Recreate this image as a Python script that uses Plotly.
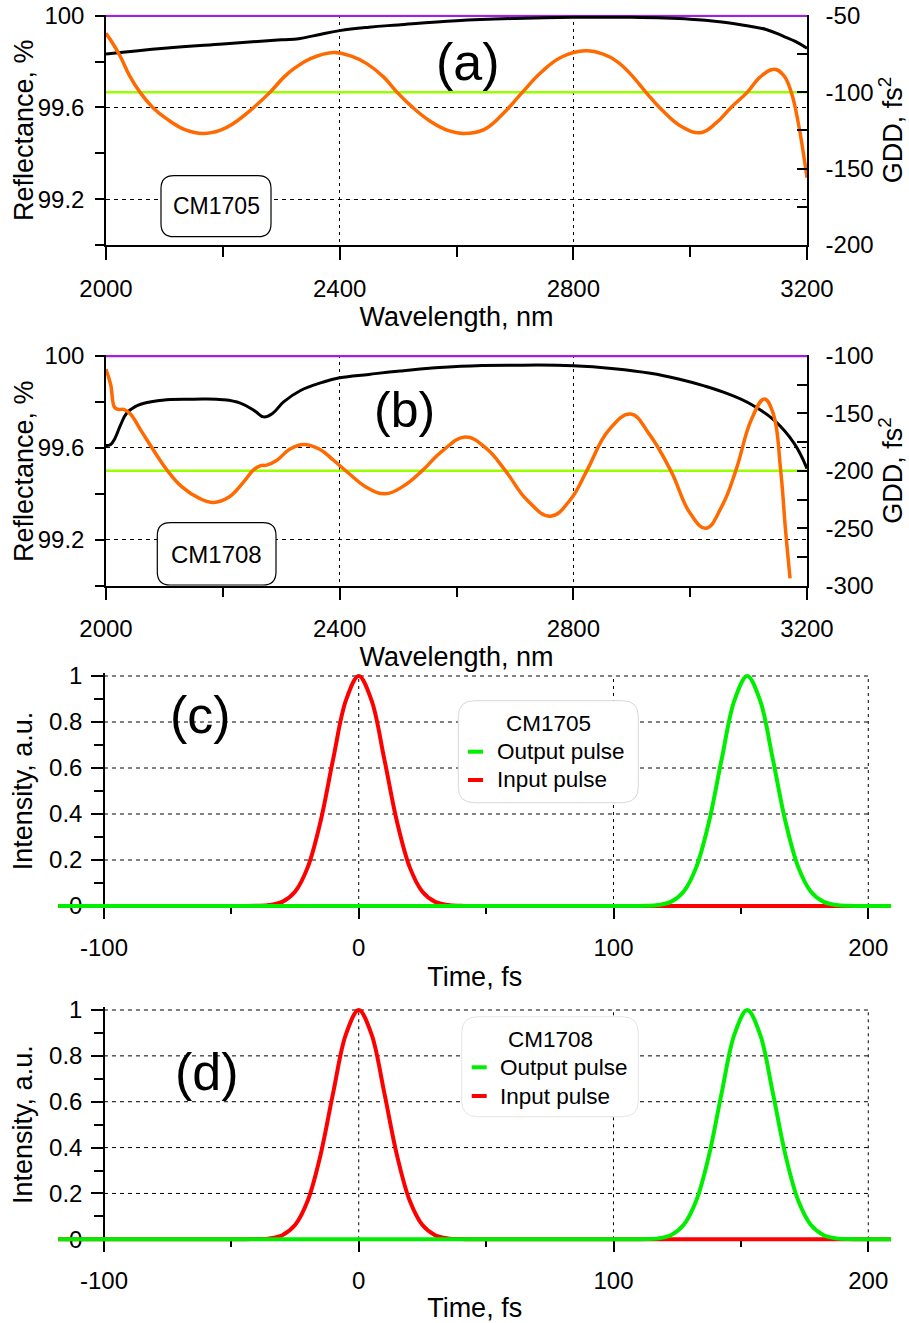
import plotly.graph_objects as go

# ---------------- DATA ----------------
# Panel (a) CM1705
wl_a_R = [2000, 2100, 2200, 2300, 2330, 2360, 2400, 2450, 2500, 2600, 2700, 2800, 2900, 3000,
          3050, 3100, 3130, 3160, 3180, 3200]
R_a = [99.833, 99.858, 99.877, 99.895, 99.9, 99.915, 99.935, 99.95, 99.96, 99.978, 99.988, 99.993,
       99.993, 99.985, 99.974, 99.955, 99.94, 99.91, 99.888, 99.858]
wl_a_gdd = [2000, 2013, 2025, 2040, 2058, 2080, 2104, 2135, 2167, 2195, 2218, 2250, 2281, 2305, 2324,
            2350, 2390, 2420, 2447, 2475, 2498, 2525, 2555, 2585, 2612, 2647, 2680, 2713, 2745, 2780,
            2821, 2850, 2875, 2900, 2924, 2950, 2985, 3018, 3045, 3070, 3098, 3120, 3144, 3160, 3173,
            3185, 3193, 3200]
gdd_a = [-61.5, -69, -77, -89, -100, -110, -117.5, -124.5, -127, -125, -120.5, -111, -100, -90, -84,
         -78, -74, -76.5, -81.5, -90, -100, -110, -119, -125, -127, -124.5, -114, -100, -87, -77,
         -73, -75, -80, -89, -100, -111, -122.5, -126.5, -120, -110, -100, -90, -85, -89, -100,
         -120, -138, -156]

# Panel (b) CM1708
wl_b_R = [2000, 2008, 2015, 2025, 2035, 2050, 2075, 2104, 2150, 2200, 2230, 2255, 2270, 2285, 2304,
          2333, 2370, 2400, 2450, 2504, 2607, 2700, 2800, 2870, 2932, 2980, 3024, 3065, 3104, 3144,
          3178, 3200]
R_b = [99.61, 99.615, 99.64, 99.70, 99.75, 99.78, 99.80, 99.81, 99.812, 99.81, 99.795, 99.76, 99.735,
       99.75, 99.80, 99.85, 99.885, 99.905, 99.92, 99.935, 99.955, 99.96, 99.958, 99.945, 99.925,
       99.90, 99.87, 99.835, 99.79, 99.72, 99.62, 99.51]
wl_b_gdd = [2000, 2008, 2015, 2022, 2030, 2041, 2060, 2080, 2104, 2130, 2160, 2184, 2210, 2235, 2253,
            2265, 2275, 2292, 2315, 2338, 2365, 2390, 2413, 2445, 2478, 2510, 2541, 2575, 2615, 2650,
            2684, 2720, 2761, 2795, 2823, 2860, 2898, 2930, 2967, 3000, 3027, 3055, 3078, 3105, 3127,
            3142, 3155, 3163, 3171]
gdd_b = [-111.6, -125, -145, -146.5, -146.5, -150, -165, -181, -199, -214, -224, -227.5, -223, -210,
         -199, -195.5, -195, -191, -181, -177, -181, -191, -201, -214, -220, -213, -200, -183, -170.5,
         -180, -200, -225, -239.5, -225, -200, -165, -150.5, -168, -200, -237, -250, -230, -200, -155,
         -137.5, -150, -200, -250, -293.6]

wl_target = [2000, 3200]
R_target = [100, 100]
gdd_target_a = [-100, -100]
gdd_target_b = [-200, -200]

# Panels (c), (d): pulses (intensity, a.u.)
t_in = [-118, -45, -40, -35, -30, -25, -20, -15, -10, -5, 0, 5, 10, 15, 20, 25, 30, 35, 40, 45, 209]
I_in = [0, 0, 0.001, 0.004, 0.018, 0.062, 0.169, 0.367, 0.641, 0.895, 1.0, 0.895, 0.641, 0.367,
        0.169, 0.062, 0.018, 0.004, 0.001, 0, 0]
t_out_c = [-118, 107.5, 112.5, 117.5, 122.5, 127.5, 132.5, 137.5, 142.5, 147.5, 152.5, 157.5, 162.5,
           167.5, 172.5, 177.5, 182.5, 187.5, 192.5, 197.5, 209]
I_out_c = [0, 0, 0.001, 0.004, 0.018, 0.062, 0.169, 0.367, 0.641, 0.895, 1.0, 0.895, 0.641, 0.367,
           0.169, 0.062, 0.018, 0.004, 0.001, 0, 0]
t_out_d = [-118, 107.5, 112.5, 117.5, 122.5, 127.5, 132.5, 137.5, 142.5, 147.5, 152.5, 157.5, 162.5,
           167.5, 172.5, 177.5, 182.5, 187.5, 192.5, 197.5, 209]
I_out_d = [0, 0, 0.001, 0.004, 0.018, 0.062, 0.169, 0.367, 0.641, 0.895, 1.0, 0.895, 0.641, 0.367,
           0.169, 0.062, 0.018, 0.004, 0.001, 0, 0]

# Ticks
wl_ticks = [2000, 2400, 2800, 3200]
wl_minor = [2200, 2600, 3000]
R_ticks = [99.2, 99.6, 100]
R_ticktext = ["99.2", "99.6", "100"]
R_minor = [99.0, 99.4, 99.8]
gdd_a_ticks = [-200, -150, -100, -50]
gdd_a_ticktext = ["-200", "-150", "-100", "-50"]
gdd_a_minor = [-175, -125, -75]
gdd_b_ticks = [-300, -250, -200, -150, -100]
gdd_b_ticktext = ["-300", "-250", "-200", "-150", "-100"]
gdd_b_minor = [-275, -225, -175, -125]
t_ticks = [-100, 0, 100, 200]
t_ticktext = ["-100", "0", "100", "200"]
t_minor = [-50, 50, 150]
I_ticks = [0, 0.2, 0.4, 0.6, 0.8, 1]
I_ticktext = ["0", "0.2", "0.4", "0.6", "0.8", "1"]
I_minor = [0.1, 0.3, 0.5, 0.7, 0.9]

# ---------------- LAYOUT HELPERS ----------------
W, H = 909, 1323
FONT = "Liberation Sans, Arial, sans-serif"


def px_x(x):
    return x / W


def px_y(y):
    return 1 - y / H


def dom_y(top, bottom):
    return [px_y(bottom), px_y(top)]


def rrect(x0, y0, x1, y1, r):
    pts = lambda x, y: f"{px_x(x):.5f},{px_y(y):.5f}"
    return (f"M {pts(x0 + r, y0)} L {pts(x1 - r, y0)} Q {pts(x1, y0)} {pts(x1, y0 + r)} "
            f"L {pts(x1, y1 - r)} Q {pts(x1, y1)} {pts(x1 - r, y1)} "
            f"L {pts(x0 + r, y1)} Q {pts(x0, y1)} {pts(x0, y1 - r)} "
            f"L {pts(x0, y0 + r)} Q {pts(x0, y0)} {pts(x0 + r, y0)} Z")


PURPLE = "#a020e8"
LIME = "#99ff00"
ORANGE = "#ff6a00"
RED = "#ff0000"
GREEN = "#00ee00"
SMOOTH = 1.2

fig = go.Figure()

# Panel (a)
fig.add_trace(go.Scatter(x=wl_target, y=R_target, mode="lines", name="R target",
                         line=dict(color=PURPLE, width=2.5), xaxis="x", yaxis="y", showlegend=False))
fig.add_trace(go.Scatter(x=wl_a_R, y=R_a, mode="lines", name="Reflectance CM1705",
                         line=dict(color="black", width=3, shape="spline", smoothing=SMOOTH),
                         xaxis="x", yaxis="y", showlegend=False))
fig.add_trace(go.Scatter(x=wl_target, y=gdd_target_a, mode="lines", name="GDD target",
                         line=dict(color=LIME, width=2.5), xaxis="x", yaxis="y2", showlegend=False))
fig.add_trace(go.Scatter(x=wl_a_gdd, y=gdd_a, mode="lines", name="GDD CM1705",
                         line=dict(color=ORANGE, width=3.5, shape="spline", smoothing=SMOOTH),
                         xaxis="x", yaxis="y2", showlegend=False))

# Panel (b)
fig.add_trace(go.Scatter(x=wl_target, y=R_target, mode="lines", name="R target",
                         line=dict(color=PURPLE, width=2.5), xaxis="x2", yaxis="y3", showlegend=False))
fig.add_trace(go.Scatter(x=wl_b_R, y=R_b, mode="lines", name="Reflectance CM1708",
                         line=dict(color="black", width=3, shape="spline", smoothing=SMOOTH),
                         xaxis="x2", yaxis="y3", showlegend=False))
fig.add_trace(go.Scatter(x=wl_target, y=gdd_target_b, mode="lines", name="GDD target",
                         line=dict(color=LIME, width=2.5), xaxis="x2", yaxis="y4", showlegend=False))
fig.add_trace(go.Scatter(x=wl_b_gdd, y=gdd_b, mode="lines", name="GDD CM1708",
                         line=dict(color=ORANGE, width=3.5, shape="spline", smoothing=SMOOTH),
                         xaxis="x2", yaxis="y4", showlegend=False))

# Panel (c)
fig.add_trace(go.Scatter(x=t_in, y=I_in, mode="lines", name="Input pulse",
                         line=dict(color=RED, width=4, shape="spline", smoothing=1),
                         xaxis="x3", yaxis="y5", showlegend=False))
fig.add_trace(go.Scatter(x=t_out_c, y=I_out_c, mode="lines", name="Output pulse",
                         line=dict(color=GREEN, width=4, shape="spline", smoothing=1),
                         xaxis="x3", yaxis="y5", showlegend=False))
# Panel (d)
fig.add_trace(go.Scatter(x=t_in, y=I_in, mode="lines", name="Input pulse",
                         line=dict(color=RED, width=4, shape="spline", smoothing=1),
                         xaxis="x4", yaxis="y6", showlegend=False))
fig.add_trace(go.Scatter(x=t_out_d, y=I_out_d, mode="lines", name="Output pulse",
                         line=dict(color=GREEN, width=4, shape="spline", smoothing=1),
                         xaxis="x4", yaxis="y6", showlegend=False))

TICKFONT = dict(family=FONT, size=24, color="black")
TITLEFONT = dict(family=FONT, size=27, color="black")
base = dict(showline=True, linecolor="black", linewidth=1.5, tickcolor="black", tickwidth=1.5,
            tickfont=TICKFONT, zeroline=False, tickmode="array", automargin=False,
            ticklabeloverflow="allow")


def minor(vals, ln, side="outside"):
    return dict(tickmode="array", tickvals=vals, ticks=side, ticklen=ln, tickcolor="black",
                tickwidth=1.5, showgrid=False)


# Panel geometry (page px)
A_TOP, A_BOT = 14.8, 245.0
B_TOP, B_BOT = 355.1, 585.7
C_TOP, C_BOT, C_ZERO = 673.24, 908.76, 906.0
D_TOP, D_BOT, D_ZERO = 1007.25, 1242.05, 1239.3
XL, XR = 106, 807
TL, TR = 58.1, 891.2
Y_AX_T = 104

xa_common = dict(base, range=[2000, 3200], tickvals=wl_ticks, ticks="outside", ticklen=13,
                 showgrid=True, gridcolor="black", gridwidth=1, griddash="3px,4px",
                 minor=minor(wl_minor, 10), ticklabelstandoff=8,
                 domain=[px_x(XL), px_x(XR)])
ya_common = dict(base, range=[99, 100.004], tickvals=R_ticks, ticktext=R_ticktext, ticks="outside",
                 ticklen=9, showgrid=True, gridcolor="black", gridwidth=1, griddash="4px,4px",
                 minor=minor(R_minor, 9), ticklabelstandoff=6)

fig.update_layout(
    xaxis=dict(xa_common, anchor="y",
               title=dict(text="Wavelength, nm", font=TITLEFONT, standoff=0)),
    yaxis=dict(ya_common, anchor="x", domain=dom_y(A_TOP, A_BOT)),
    yaxis2=dict(base, overlaying="y", side="right", anchor="x", range=[-200, -49.4],
                tickvals=gdd_a_ticks, ticktext=gdd_a_ticktext, ticks="inside", ticklen=10,
                showgrid=False, minor=minor(gdd_a_minor, 10, "inside"), ticklabelstandoff=12,
                title=dict(text="GDD, fs<sup>2</sup>", font=TITLEFONT, standoff=8)),
    xaxis2=dict(xa_common, anchor="y3",
                title=dict(text="Wavelength, nm", font=TITLEFONT, standoff=0)),
    yaxis3=dict(ya_common, anchor="x2", domain=dom_y(B_TOP, B_BOT)),
    yaxis4=dict(base, overlaying="y3", side="right", anchor="x2", range=[-300, -99.2],
                tickvals=gdd_b_ticks, ticktext=gdd_b_ticktext, ticks="inside", ticklen=10,
                showgrid=False, minor=minor(gdd_b_minor, 10, "inside"), ticklabelstandoff=12,
                title=dict(text="GDD, fs<sup>2</sup>", font=TITLEFONT, standoff=8)),
    xaxis3=dict(base, range=[-118, 209], domain=[px_x(TL), px_x(TR)], anchor="free",
                position=px_y(C_ZERO), tickvals=t_ticks, ticktext=t_ticktext, ticks="outside",
                ticklen=12, showgrid=False, minor=minor(t_minor, 7), ticklabelstandoff=8,
                layer="below traces",
                title=dict(text="Time, fs", font=TITLEFONT, standoff=7)),
    yaxis5=dict(base, range=[-0.012, 1.012], domain=dom_y(C_TOP, C_BOT), anchor="free",
                position=px_x(Y_AX_T), tickvals=I_ticks, ticktext=I_ticktext, ticks="outside",
                ticklen=12, showgrid=False, minor=minor(I_minor, 9), ticklabelstandoff=4,
                layer="below traces",
                title=dict(text="Intensity, a.u.", font=TITLEFONT, standoff=8)),
    xaxis4=dict(base, range=[-118, 209], domain=[px_x(TL), px_x(TR)], anchor="free",
                position=px_y(D_ZERO), tickvals=t_ticks, ticktext=t_ticktext, ticks="outside",
                ticklen=12, showgrid=False, minor=minor(t_minor, 7), ticklabelstandoff=8,
                layer="below traces",
                title=dict(text="Time, fs", font=TITLEFONT, standoff=5)),
    yaxis6=dict(base, range=[-0.012, 1.012], domain=dom_y(D_TOP, D_BOT), anchor="free",
                position=px_x(Y_AX_T), tickvals=I_ticks, ticktext=I_ticktext, ticks="outside",
                ticklen=12, showgrid=False, minor=minor(I_minor, 9), ticklabelstandoff=4,
                layer="below traces",
                title=dict(text="Intensity, a.u.", font=TITLEFONT, standoff=8)),
)

shapes = []
# Grid lines for pulse panels
for xr, yr in (("x3", "y5"), ("x4", "y6")):
    for v in I_ticks[1:]:
        shapes.append(dict(type="line", xref=xr, yref=yr, x0=t_ticks[0], x1=t_ticks[-1], y0=v, y1=v,
                           line=dict(color="black", width=1, dash="4px,4px"), layer="below"))
    for v in t_ticks[1:]:
        shapes.append(dict(type="line", xref=xr, yref=yr, x0=v, x1=v, y0=0, y1=1,
                           line=dict(color="black", width=1, dash="3px,4px"), layer="below"))

# Sample labels boxes in (a),(b)
shapes.append(dict(type="path", xref="paper", yref="paper", path=rrect(161, 175.7, 271, 236.7, 13),
                   line=dict(color="black", width=1.2), fillcolor="white", layer="above"))
shapes.append(dict(type="path", xref="paper", yref="paper", path=rrect(157.3, 522.7, 276, 585, 13),
                   line=dict(color="black", width=1.2), fillcolor="white", layer="above"))
# Legend boxes in (c),(d)
shapes.append(dict(type="path", xref="paper", yref="paper", path=rrect(458.3, 700.7, 638.3, 802.7, 16),
                   line=dict(color="#d8d8d8", width=1), fillcolor="white", layer="above"))
shapes.append(dict(type="path", xref="paper", yref="paper", path=rrect(461.7, 1016.7, 638.3, 1116.7, 16),
                   line=dict(color="#e4e4e4", width=1), fillcolor="white", layer="above"))
# Legend sample lines
for (xs, xe, y, col) in ((468, 483, 751.7, GREEN), (468, 483, 780, RED),
                         (471.7, 486.7, 1067.3, GREEN), (471.7, 486.7, 1096, RED)):
    shapes.append(dict(type="line", xref="paper", yref="paper", x0=px_x(xs), x1=px_x(xe),
                       y0=px_y(y), y1=px_y(y), line=dict(color=col, width=4), layer="above"))

fig.update_layout(shapes=shapes)

ann = []


def add_text(text, x, y, size, xanchor="center", angle=0):
    ann.append(dict(text=text, x=px_x(x), y=px_y(y), xref="paper", yref="paper", showarrow=False,
                    xanchor=xanchor, yanchor="middle", textangle=angle,
                    font=dict(family=FONT, size=size, color="black")))


# Left axis titles of the reflectance panels
add_text("Reflectance, %", 24, 130, 27, angle=-90)
add_text("Reflectance, %", 24, 471, 27, angle=-90)

add_text("(a)", 467.5, 62, 52)
add_text("(b)", 404, 409.5, 50)
add_text("(c)", 200.8, 714.8, 52)
add_text("(d)", 207, 1071.7, 52)
add_text("CM1705", 216, 206, 23)
add_text("CM1708", 216.7, 554, 24)
add_text("CM1705", 548.3, 723.3, 22.5)
add_text("Output pulse", 495, 751.7, 22.5, "left")
add_text("Input pulse", 495, 780, 22.5, "left")
add_text("CM1708", 550, 1039.3, 22.5)
add_text("Output pulse", 498.3, 1067.3, 22.5, "left")
add_text("Input pulse", 498.3, 1096, 22.5, "left")

fig.update_layout(annotations=ann, width=W, height=H, margin=dict(l=0, r=0, t=0, b=0, pad=0),
                  autosize=False, paper_bgcolor="white", plot_bgcolor="white", showlegend=False,
                  font=dict(family=FONT, color="black"))

# Remove the page's default body margin so the 909x1323 figure fills the window exactly
fig.write_html("out.html", config={"displayModeBar": False},
               post_script="document.body.style.margin='0px';")
